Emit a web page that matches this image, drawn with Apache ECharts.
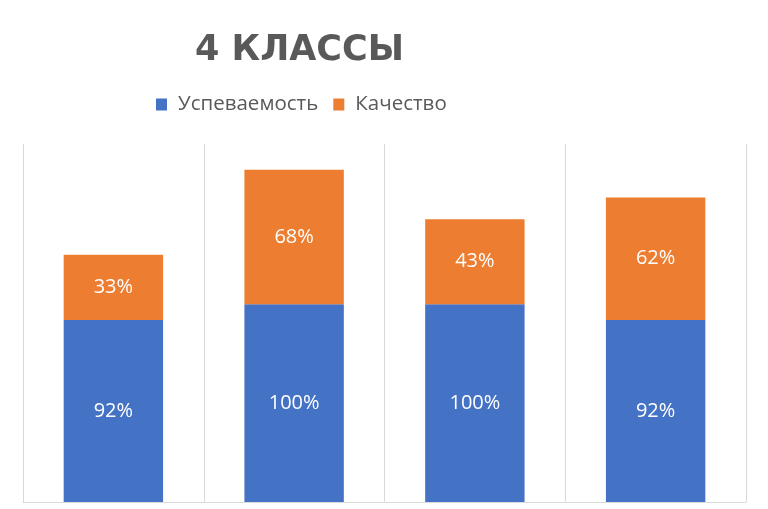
<!DOCTYPE html>
<html><head><meta charset="utf-8">
<script src="https://cdn.jsdelivr.net/npm/echarts@6/dist/echarts.min.js"></script>
<style>html,body{margin:0;padding:0;background:#fff}#c{width:768px;height:509px}</style>
</head><body><div id="c"></div>
<script>
const categories = ['1', '2', '3', '4'];
const successRate = [92, 100, 100, 92];
const quality = [33, 68, 43, 62];
const seriesNames = ['Успеваемость', 'Качество'];
const titleText = '4 КЛАССЫ';

const chart = echarts.init(document.getElementById('c'), null, {renderer: 'canvas'});
const labelStyle = {
  show: true, position: 'inside', color: '#ffffff',
  fontFamily: 'Open Sans', fontSize: 20,
  formatter: p => p.value + '%'
};
chart.setOption({
  animation: false,
  title: {
    text: titleText, left: 190, top: 28,
    textStyle: {fontFamily: 'DejaVu Sans', fontWeight: 'bold', fontSize: 35, color: '#595959'}
  },
  legend: {
    left: 151, top: 89, itemWidth: 11, itemHeight: 12, itemGap: 15,
    icon: 'rect',
    textStyle: {fontFamily: 'Open Sans', fontSize: 20.5, color: '#595959', padding: [0, 0, 0, 6]},
    data: seriesNames
  },
  grid: {left: 23, right: 22, top: 144, bottom: 7},
  xAxis: {
    type: 'category', data: categories, boundaryGap: true,
    axisLine: {show: true, lineStyle: {color: '#D9D9D9', width: 1}},
    axisTick: {show: false}, axisLabel: {show: false},
    splitLine: {show: true, lineStyle: {color: '#D9D9D9', width: 1}}
  },
  yAxis: {
    type: 'value', min: 0, max: 181, show: false,
    splitLine: {show: false}
  },
  series: [
    {name: seriesNames[0], type: 'bar', stack: 's', data: successRate, barWidth: '55%',
     itemStyle: {color: '#4472C4'}, label: labelStyle},
    {name: seriesNames[1], type: 'bar', stack: 's', data: quality, barWidth: '55%',
     itemStyle: {color: '#ED7D31'}, label: labelStyle}
  ]
});
</script></body></html>
